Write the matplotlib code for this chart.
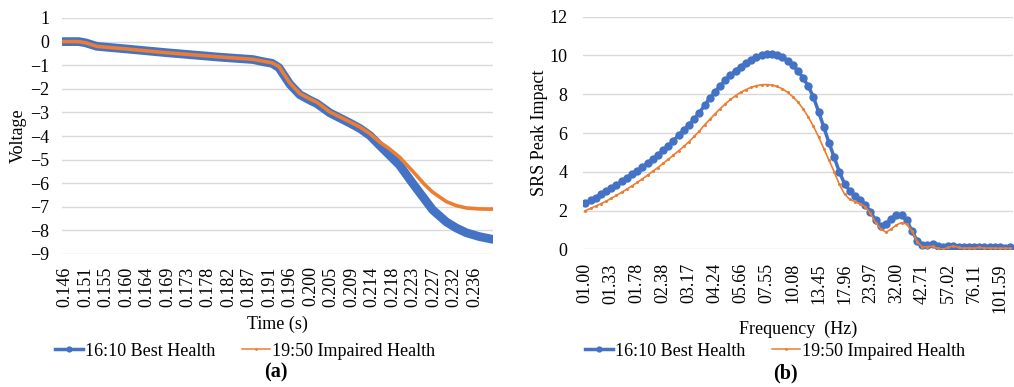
import numpy as np
import matplotlib
matplotlib.use("Agg")
import matplotlib.pyplot as plt
from matplotlib.lines import Line2D

plt.rcParams['font.family'] = ['Liberation Serif', 'DejaVu Serif']
plt.rcParams['axes.unicode_minus'] = True

# ---------------- (a) Time domain ----------------
time_s = [0.1455, 0.1490, 0.1505, 0.1530, 0.1600, 0.1683, 0.1800, 0.1873, 0.1895,
          0.1915, 0.1930, 0.1954, 0.1976, 0.2000, 0.2013, 0.2042, 0.2086, 0.2108,
          0.2130, 0.2151, 0.2170, 0.2195, 0.2225, 0.2250, 0.2268, 0.2298, 0.2320,
          0.2342, 0.2370, 0.2400]
volt_best = [0.0, 0.0, -0.05, -0.20, -0.32, -0.47, -0.66, -0.76, -0.85,
             -0.92, -1.10, -1.80, -2.25, -2.50, -2.62, -3.02, -3.45, -3.68,
             -3.98, -4.39, -4.75, -5.23, -6.03, -6.67, -7.13, -7.64, -7.90,
             -8.10, -8.26, -8.38]
volt_impaired = [0.0, 0.0, -0.05, -0.20, -0.32, -0.47, -0.65, -0.75, -0.83,
                 -0.90, -1.05, -1.75, -2.20, -2.45, -2.56, -2.98, -3.40, -3.62,
                 -3.90, -4.25, -4.50, -4.89, -5.51, -6.05, -6.38, -6.78, -6.95,
                 -7.05, -7.09, -7.10]
time_ticklabels = ['0.146', '0.151', '0.155', '0.160', '0.164', '0.169', '0.173',
                   '0.178', '0.182', '0.187', '0.191', '0.196', '0.200', '0.205',
                   '0.209', '0.214', '0.218', '0.223', '0.227', '0.232', '0.236']

# ---------------- (b) SRS ----------------
freq_ticklabels = ['01.00', '01.33', '01.78', '02.38', '03.17', '04.24', '05.66',
                   '07.55', '10.08', '13.45', '17.96', '23.97', '32.00', '42.71',
                   '57.02', '76.11', '101.59']
srs_best = [2.37, 2.52, 2.67, 2.83, 2.99, 3.15, 3.32, 3.50, 3.68, 3.86,
            4.05, 4.24, 4.44, 4.66, 4.88, 5.10, 5.34, 5.60, 5.88, 6.15,
            6.43, 6.72, 7.05, 7.42, 7.80, 8.12, 8.43, 8.72, 8.98, 9.22,
            9.43, 9.61, 9.77, 9.90, 10.00, 10.07, 10.08, 10.03, 9.92, 9.74,
            9.50, 9.20, 8.85, 8.42, 7.85, 7.10, 6.30, 5.50, 4.75, 4.00,
            3.38, 3.02, 2.75, 2.56, 2.30, 1.95, 1.50, 1.20, 1.30, 1.58,
            1.75, 1.78, 1.50, 0.95, 0.45, 0.22, 0.24, 0.28, 0.15, 0.10,
            0.15, 0.18, 0.12, 0.10, 0.12, 0.10, 0.12, 0.10, 0.10, 0.11,
            0.10, 0.09, 0.10]
srs_impaired = [1.99, 2.11, 2.23, 2.35, 2.48, 2.63, 2.78, 2.94, 3.10, 3.27,
                3.45, 3.63, 3.82, 4.02, 4.22, 4.43, 4.64, 4.86, 5.08, 5.31,
                5.55, 5.82, 6.10, 6.42, 6.70, 6.98, 7.25, 7.50, 7.73, 7.93,
                8.10, 8.24, 8.36, 8.44, 8.49, 8.50, 8.47, 8.40, 8.28, 8.10,
                7.88, 7.60, 7.25, 6.83, 6.35, 5.80, 5.20, 4.60, 4.00, 3.35,
                2.85, 2.58, 2.46, 2.36, 2.20, 1.85, 1.38, 1.05, 0.88, 1.05,
                1.25, 1.38, 1.30, 0.95, 0.40, 0.12, 0.14, 0.15, 0.05, 0.00,
                0.10, 0.17, 0.10, 0.05, 0.08, 0.05, 0.10, 0.06, 0.07, 0.06,
                0.05, 0.06, 0.05]

series_names = ['16:10 Best Health', '19:50 Impaired Health']
BLUE = '#4472C4'
ORANGE = '#ED7D31'
GRID = '#D9D9D9'
FS = 13

W, H = 1014, 387
fig = plt.figure(figsize=(W / 100, H / 100), dpi=100)

def px_axes(x0, y0, x1, y1):
    return fig.add_axes([x0 / W, 1 - y1 / H, (x1 - x0) / W, (y1 - y0) / H])

def style(ax):
    for s in ax.spines.values():
        s.set_visible(False)
    ax.grid(axis='y', color=GRID, linewidth=1.0)
    ax.set_axisbelow(True)
    ax.tick_params(length=0, labelsize=FS)

# ---- left ----
axa = px_axes(62, 18, 493, 254)
style(axa)
axa.plot(time_s, volt_best, color=BLUE, lw=6.3, solid_capstyle='round',
         solid_joinstyle='round')
axa.plot(time_s, volt_impaired, color=ORANGE, lw=2.6, solid_capstyle='round',
         solid_joinstyle='round')
axa.set_ylim(-9, 1)
axa.set_yticks(range(-9, 2))
t0, dt = 0.146, 0.0045
axa.set_xticks([t0 + dt * i for i in range(len(time_ticklabels))])
axa.set_xticklabels(time_ticklabels, rotation=90)
axa.set_xlim(t0 - dt * 3 / 20.5, t0 + dt * 428.5 / 20.5)
axa.tick_params(axis='y', pad=9)
axa.tick_params(axis='x', pad=9)
axa.set_ylabel('Voltage', fontsize=FS, labelpad=2.5)
axa.set_xlabel('Time (s)', fontsize=FS, labelpad=6.5)

# ---- right ----
axb = px_axes(583, 16.7, 1013, 249.3)
style(axb)
idx = np.arange(len(srs_best))
axb.plot(idx, srs_best, color=BLUE, lw=2.5, marker='o', ms=6.0, mew=0)
axb.plot(idx, srs_impaired, color=ORANGE, lw=1.2, marker='o', ms=2.2, mew=0)
axb.set_ylim(0, 12)
axb.set_yticks(range(0, 13, 2))
axb.set_xticks(idx[::5][:len(freq_ticklabels)])
axb.set_xticklabels(freq_ticklabels, rotation=90)
axb.set_xlim(-0.45, 82.5)
axb.tick_params(axis='y', pad=11)
axb.tick_params(axis='x', pad=10)
axb.set_ylabel('SRS Peak Impact', fontsize=FS, labelpad=1.5)
axb.set_xlabel('Frequency  (Hz)', fontsize=FS, labelpad=6)

# ---- legends ----
def handles():
    return [Line2D([], [], color=BLUE, lw=2.5, marker='o', ms=4.5, mew=0),
            Line2D([], [], color=ORANGE, lw=1.1, marker='o', ms=2.0, mew=0)]

for cx in (245, 775):
    fig.legend(handles(), series_names, loc='center', bbox_to_anchor=(cx / W, 1 - 351 / H),
               ncol=2, frameon=False, fontsize=FS, handlelength=1.55,
               handletextpad=0.1, columnspacing=1.5, borderpad=0)

fig.text(276 / W, 1 - 372 / H, '(a)', ha='center', va='center', fontsize=14.5,
         fontweight='bold')
fig.text(785 / W, 1 - 373 / H, '(b)', ha='center', va='center', fontsize=14.5,
         fontweight='bold')

fig.savefig('out.png', dpi=100)
